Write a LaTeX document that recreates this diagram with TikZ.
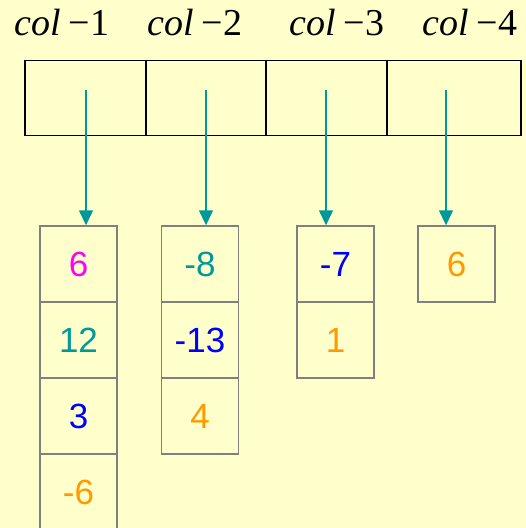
\documentclass[tikz,border=0pt]{standalone}
\usepackage{fontspec}
\setmainfont{Liberation Sans}
\newfontfamily\timesfont{Liberation Serif}
\usetikzlibrary{arrows.meta}
\definecolor{paper}{HTML}{FFFFCC}
\definecolor{tealc}{HTML}{009999}
\definecolor{orangec}{HTML}{FF9900}
\definecolor{magentac}{HTML}{FF00FF}
\definecolor{framec}{HTML}{808080}

\tikzset{
  headbox/.style={draw=black, line width=1.4pt, minimum height=75pt, inner sep=0pt},
  cell/.style={draw=framec, line width=1.4pt, minimum width=77pt, minimum height=76pt, inner sep=0pt, font=\fontsize{35}{37}\selectfont},
  link/.style={tealc, line width=1.4pt, -{Triangle[length=15pt,width=14pt]}},
  collabel/.style={anchor=base, font=\fontsize{38}{40}\timesfont}
}

\begin{document}
\begin{tikzpicture}[x=1pt, y=-1pt]
\fill[paper] (0,0) rectangle (526,528);
\useasboundingbox (0,0) rectangle (526,528);

% header row with the column labels
\foreach \x/\w/\lx [count=\i] in {85.5/121/62, 206/120/195, 326.5/121/337, 454/134/470} {
  \node[headbox, minimum width=\w pt] (h\i) at (\x,98) {};
  \node[collabel] (l\i) at (\lx,35) {{\itshape col}\,\kern1pt\char"2212\kern1pt\i};
}

% column 1
\node[cell, text=magentac] (c11) at (78.5,264) {6};
\node[cell, text=tealc]    (c12) at (78.5,340) {12};
\node[cell, text=blue]     (c13) at (78.5,416) {3};
\node[cell, text=orangec]  (c14) at (78.5,492) {-6};
% column 2
\node[cell, text=tealc]    (c21) at (200,264) {-8};
\node[cell, text=blue]     (c22) at (200,340) {-13};
\node[cell, text=orangec]  (c23) at (200,416) {4};
% column 3
\node[cell, text=blue]     (c31) at (335.5,264) {-7};
\node[cell, text=orangec]  (c32) at (335.5,340) {1};
% column 4
\node[cell, text=orangec]  (c41) at (456.5,264) {6};

% pointers from header boxes into the columns
\foreach \x [count=\i] in {86, 206, 326, 446} {
  \coordinate (s\i) at (\x,90);
  \draw[link] (s\i) -- (s\i |- c\i1.north);
}
\end{tikzpicture}
\end{document}
